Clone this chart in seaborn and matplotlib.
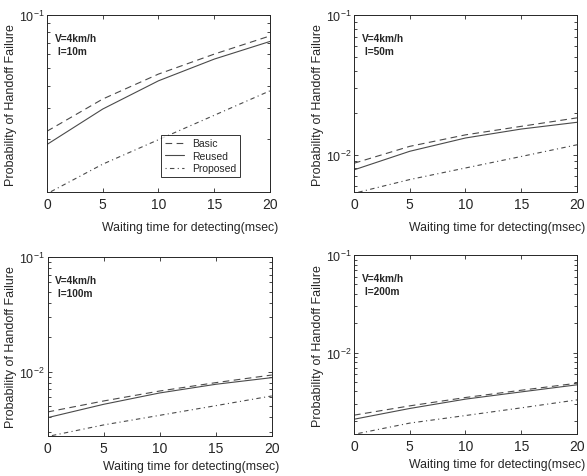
import matplotlib
matplotlib.use("Agg")
import matplotlib.pyplot as plt
from matplotlib.ticker import LogLocator, NullFormatter, FixedLocator
import seaborn as sns

sns.set_style("ticks")
plt.rcParams['font.family'] = ['Liberation Sans', 'DejaVu Sans']
plt.rcParams['xtick.direction'] = 'in'
plt.rcParams['ytick.direction'] = 'in'
plt.rcParams['mathtext.fontset'] = 'custom'
plt.rcParams['mathtext.rm'] = 'Liberation Sans'

wait_ms = [0, 5, 10, 15, 20]
series = ['Basic', 'Reused', 'Proposed']
cell_sizes = ['10m', '50m', '100m', '200m']

# probability of handoff failure
basic_10 = [0.0221, 0.0336, 0.0465, 0.0603, 0.0764]
reused_10 = [0.0186, 0.0295, 0.0426, 0.0565, 0.0711]
proposed_10 = [0.0098, 0.0144, 0.0198, 0.0272, 0.0374]

basic_50 = [0.0087, 0.0115, 0.0139, 0.0160, 0.0184]
reused_50 = [0.0078, 0.0106, 0.0132, 0.0153, 0.0171]
proposed_50 = [0.0053, 0.00665, 0.00805, 0.00973, 0.0118]

basic_100 = [0.00445, 0.00555, 0.00678, 0.00802, 0.00935]
reused_100 = [0.00397, 0.00519, 0.00652, 0.00776, 0.00887]
proposed_100 = [0.00272, 0.00343, 0.00416, 0.00505, 0.00614]

basic_200 = [0.00228, 0.00284, 0.00346, 0.00411, 0.00485]
reused_200 = [0.00207, 0.00267, 0.00333, 0.00395, 0.00467]
proposed_200 = [0.00145, 0.00189, 0.00226, 0.00271, 0.00327]

panel_data = [
    (basic_10, reused_10, proposed_10),
    (basic_50, reused_50, proposed_50),
    (basic_100, reused_100, proposed_100),
    (basic_200, reused_200, proposed_200),
]
y_bottoms = [0.01, 0.0054, 0.00275, 0.00146]

styles = {'Basic': (0, (6, 4)), 'Reused': '-', 'Proposed': (0, (1, 3, 4, 3))}
line_color = '#4a4a4a'

fig = plt.figure(figsize=(5.87, 4.77), dpi=100)
boxes = [
    [0.080, 0.595, 0.380, 0.371],
    [0.603, 0.595, 0.380, 0.371],
    [0.081, 0.084, 0.382, 0.375],
    [0.603, 0.088, 0.380, 0.375],
]
label_y = [-0.165, -0.165, -0.135, -0.135]

for i, (vals, box) in enumerate(zip(panel_data, boxes)):
    ax = fig.add_axes(box)
    for name, v in zip(series, vals):
        sns.lineplot(x=wait_ms, y=v, ax=ax, color=line_color, lw=0.8,
                     linestyle=styles[name], label=name if i == 0 else None)
    ax.set_yscale('log')
    ax.set_xlim(0, 20)
    ax.set_ylim(y_bottoms[i], 0.1)
    ax.set_xticks([0, 5, 10, 15, 20])
    if i == 0:
        ax.yaxis.set_major_locator(FixedLocator([0.1]))
    else:
        ax.yaxis.set_major_locator(LogLocator(base=10))
    ax.yaxis.set_minor_locator(LogLocator(base=10, subs=range(2, 10)))
    ax.yaxis.set_minor_formatter(NullFormatter())
    ax.tick_params(which='both', top=True, right=True, length=3, width=0.6)
    ax.tick_params(which='minor', length=2)
    ax.tick_params(axis='x', labelsize=10)
    ax.tick_params(axis='y', labelsize=9, pad=2)
    for sp in ax.spines.values():
        sp.set_linewidth(0.7)
    ax.set_xlabel('Waiting time for detecting(msec)', fontsize=8.8)
    ax.xaxis.set_label_coords(0.64, label_y[i])
    ax.set_ylabel('Probability of Handoff Failure', fontsize=9)
    ax.yaxis.set_label_coords(-0.135, 0.5)
    ax.text(0.035, 0.9, 'V=4km/h\n l=' + cell_sizes[i], transform=ax.transAxes,
            fontsize=7.3, fontweight='bold', va='top', linespacing=1.35)
    if i == 0:
        ax.legend(loc='lower right', bbox_to_anchor=(0.865, 0.085), fontsize=7.5,
                  frameon=True, fancybox=False, edgecolor='black',
                  handlelength=1.8, borderpad=0.35, labelspacing=0.25,
                  borderaxespad=0)
        ax.get_legend().get_frame().set_linewidth(0.7)

fig.savefig('out.png', dpi=100)
